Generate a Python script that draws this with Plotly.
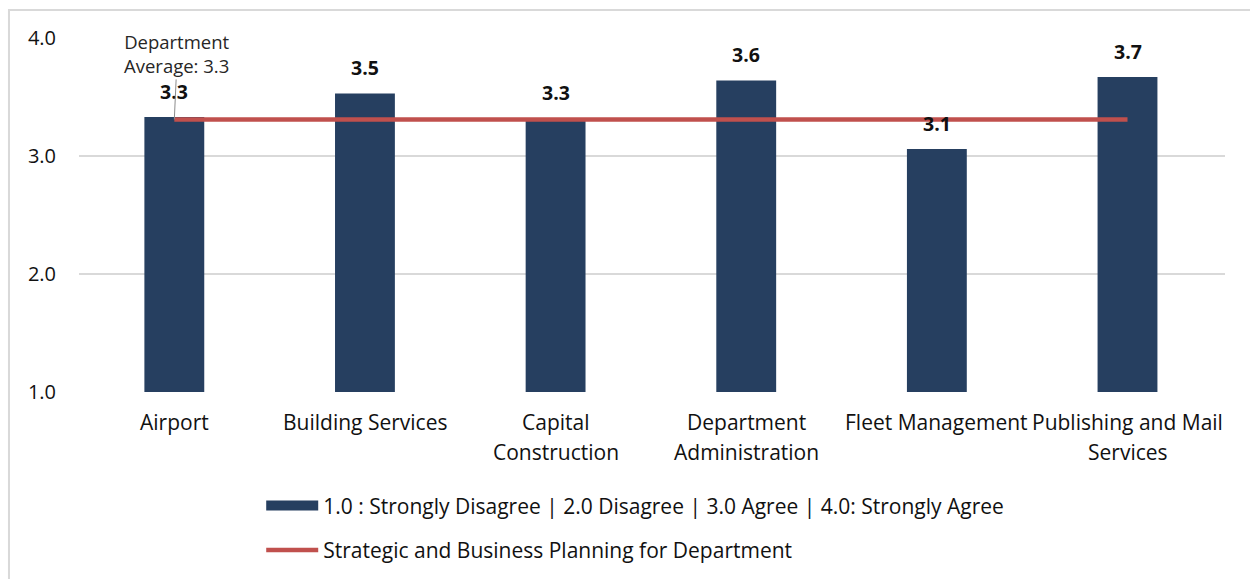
import plotly.graph_objects as go

# Survey results by division
categories = ["Airport", "Building Services", "Capital Construction",
              "Department Administration", "Fleet Management",
              "Publishing and Mail Services"]
category_labels = [["Airport"], ["Building Services"], ["Capital", "Construction"],
                   ["Department", "Administration"], ["Fleet Management"],
                   ["Publishing and Mail", "Services"]]
scores = [3.33, 3.53, 3.32, 3.64, 3.06, 3.67]
department_average = 3.31

bar_name = "1.0 : Strongly Disagree | 2.0 Disagree | 3.0 Agree | 4.0: Strongly Agree"
line_name = "Strategic and Business Planning for Department"
y_ticks = [1.0, 2.0, 3.0, 4.0]

NAVY = "#263f60"
RED = "#c0504d"
GRID = "#d9d9d9"
TEXT = "#111111"
FONT = "Open Sans, sans-serif"

fig = go.Figure()

fig.add_trace(go.Bar(
    x=categories, y=scores, marker_color=NAVY, marker_line_width=0,
    showlegend=False, hoverinfo="x+y",
))

fig.add_trace(go.Scatter(
    x=categories, y=[department_average] * len(categories), mode="lines",
    line=dict(color=RED, width=4.5), showlegend=False,
))

# legend entries drawn as wide swatches
fig.add_trace(go.Scatter(
    x=[None], y=[None], mode="lines", name=bar_name,
    line=dict(color=NAVY, width=13), legendgroup="a",
))
fig.add_trace(go.Scatter(
    x=[None], y=[None], mode="lines", name=line_name,
    line=dict(color=RED, width=4.5), legendgroup="b",
))

# value labels above each bar
for cat, val in zip(categories, scores):
    fig.add_annotation(
        x=cat, y=val, text=f"<b>{val:.1f}</b>", showarrow=False,
        yanchor="bottom", yshift=10, font=dict(size=19.5, color=TEXT),
    )

# category labels, one annotation per text line for wider line spacing
for cat, lines in zip(categories, category_labels):
    for i, line in enumerate(lines):
        fig.add_annotation(
            x=cat, y=0, yref="paper", text=line, showarrow=False,
            yanchor="middle", yshift=-(30 + 30 * i),
            font=dict(size=21, color=TEXT),
        )

# department average callout
fig.add_annotation(
    x=categories[0], y=department_average,
    text=f"Department<br>Average: {department_average:.1f}",
    showarrow=True, arrowhead=0, arrowwidth=1, arrowcolor="#8c8c8c",
    ax=3, ay=-66, standoff=0,
    font=dict(size=18.5, color="#262626"),
)

# outer frame
fig.add_shape(
    type="rect", xref="paper", yref="paper",
    x0=-0.0611, x1=1.2, y0=-1.0, y1=1.079,
    line=dict(color=GRID, width=2), fillcolor="rgba(0,0,0,0)", layer="below",
)

fig.update_layout(
    width=1250, height=579,
    margin=dict(l=79, r=25, t=38, b=187, autoexpand=False),
    plot_bgcolor="white", paper_bgcolor="white",
    font=dict(family=FONT, size=20, color=TEXT),
    bargap=0.686,
    legend=dict(
        orientation="v", x=0.159, xanchor="left", y=-0.264, yanchor="top",
        traceorder="grouped", tracegroupgap=14, itemwidth=52,
        font=dict(size=21, color=TEXT), bgcolor="rgba(0,0,0,0)",
    ),
    xaxis=dict(showgrid=False, showline=False, ticks="", showticklabels=False),
    yaxis=dict(
        range=[1, 4], tickvals=y_ticks, tickformat=".1f",
        showgrid=True, gridcolor=GRID, gridwidth=2, zeroline=False,
        showline=False, ticks="", ticklabelstandoff=22, tickfont=dict(size=20),
    ),
)

fig.write_html("out.html")
